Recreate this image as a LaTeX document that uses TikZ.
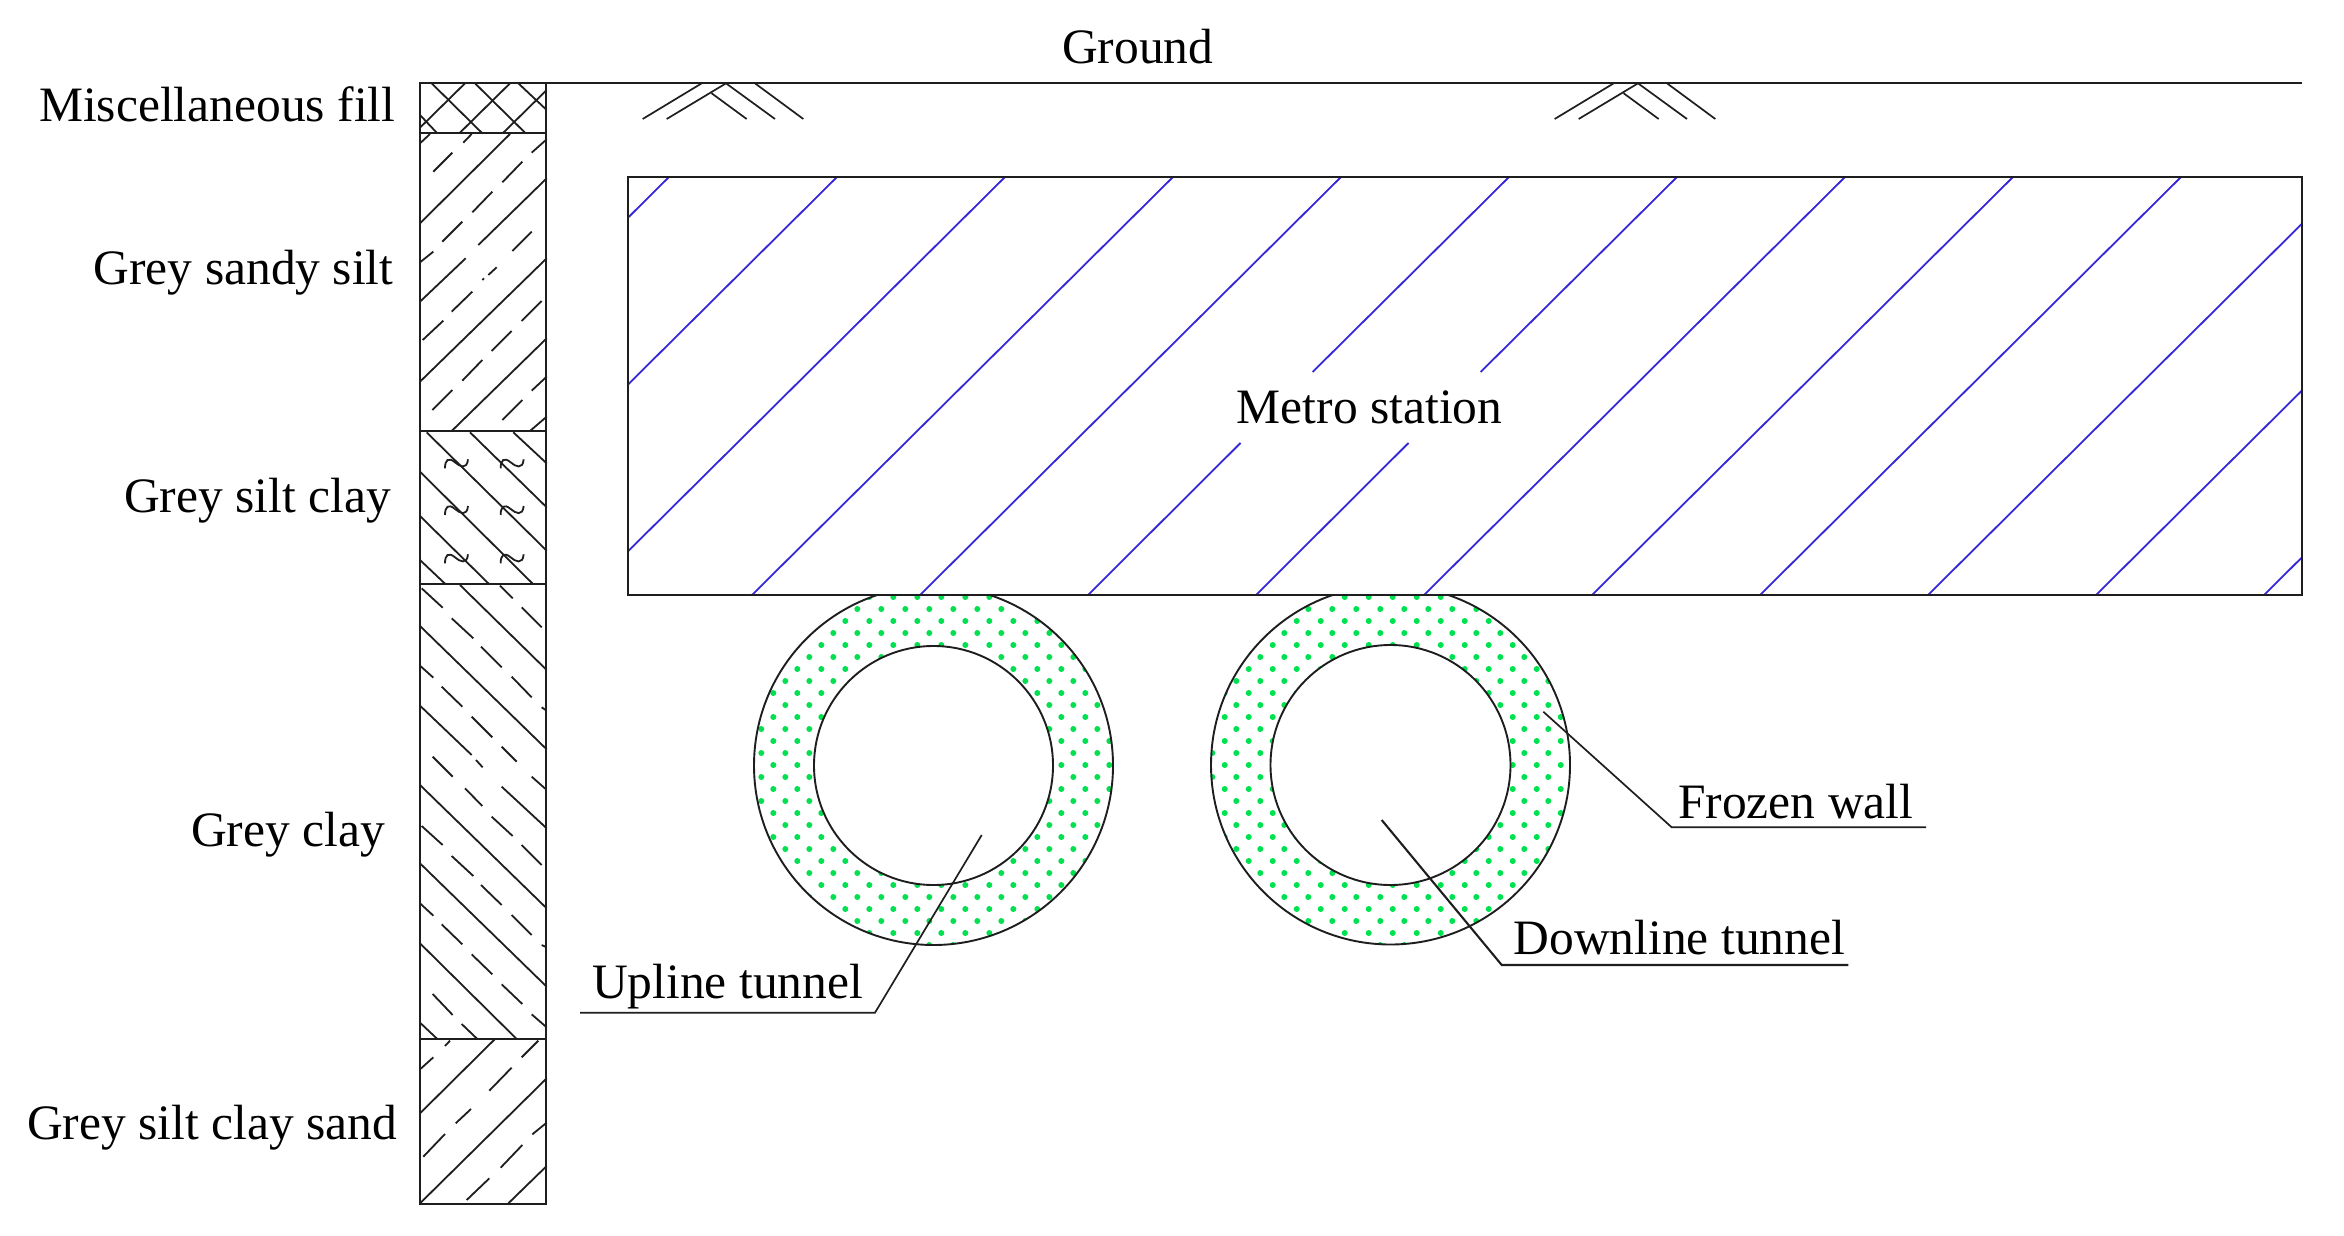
\documentclass[tikz,border=0pt]{standalone}
\usepackage{fontspec}
\setmainfont{Liberation Serif}
\definecolor{hatchblue}{RGB}{55,40,215}
\definecolor{frozengreen}{RGB}{0,225,80}
\definecolor{ink}{RGB}{30,30,30}
\newcommand\frozendots[2]{\foreach \i in {0,...,16}\foreach \j in {0,...,15}{%
  \fill[frozengreen] ({#1+24*\i},{585+24*\j}) circle (3pt);
  \fill[frozengreen] ({#2+24*\i},{597+24*\j}) circle (3pt);}}
\tikzset{
  soil/.style={ink,line width=1.8pt},
  frame/.style={ink,line width=2.3pt},
  leader/.style={ink,line width=1.7pt},
  ringline/.style={ink,line width=1.9pt},
  station/.style={hatchblue,line width=1.8pt},
  lab/.style={anchor=base west,inner sep=0pt,font=\fontsize{49.5}{50}\selectfont,text=black},
  zoomgrid/.style={x=.33333pt,y=-.33333pt}
}
\begin{document}
\begin{tikzpicture}[x=1pt,y=-1pt]
\useasboundingbox (0,0) rectangle (2344,1236);
\fill[white] (0,0) rectangle (2344,1236);

% ---- borehole column hatching
\begin{scope}[xshift=400pt,yshift=-60pt,zoomgrid]
  % miscellaneous fill
  \draw[soil] (95,70)--(245,218) (225,70)--(375,218) (355,70)--(440,150) (60,165)--(110,218);
  \draw[soil] (195,70)--(60,203) (330,70)--(180,218) (440,90)--(310,218);
  % grey sandy silt
  \draw[soil] (330,222)--(60,490) (440,355)--(235,555) (197,595)--(60,725)
     (440,595)--(60,965) (440,835)--(155,1113) (440,1070)--(390,1113);
  \draw[soil] (60,250)--(90,222) (100,335)--(157,278) (190,248)--(215,222)
     (60,607)--(100,575) (127,545)--(187,485) (217,457)--(277,395) (307,367)--(367,305) (395,278)--(440,238)
     (68,840)--(130,782) (155,755)--(217,695) (247,660)--(252,655) (265,645)--(290,622) (337,573)--(395,515)
     (97,1050)--(157,990) (187,962)--(247,900) (275,873)--(335,813) (365,783)--(425,723)
     (307,1080)--(367,1020) (395,992)--(440,950);
\end{scope}
\begin{scope}[xshift=400pt,yshift=-420pt,zoomgrid]
  % grey silt clay
  \draw[soil] (80,37)--(440,392) (210,37)--(440,262) (340,37)--(440,130)
     (60,155)--(400,493) (60,288)--(268,493) (60,420)--(137,493);
  \foreach \tx in {135,302} \foreach \ty in {130,270,415}
    \draw[soil,shift={(\tx,\ty)}] (0,15) .. controls (0,-10) and (10,-20) .. (30,-3)
       .. controls (45,10) and (66,20) .. (69,-12);
  % grey clay (upper part)
  \draw[soil] (180,495)--(440,750) (60,618)--(440,988) (60,857)--(215,1005) (228,1020)--(248,1042)
     (305,1100)--(440,1225) (60,1095)--(440,1465);
  \draw[soil] (300,497)--(338,535) (365,562)--(425,622)
     (65,505)--(128,563) (155,595)--(220,655) (243,680)--(305,742) (335,770)--(395,832) (425,862)--(440,872)
     (60,737)--(100,773) (125,800)--(187,860) (215,890)--(277,952) (305,980)--(350,1025) (395,1070)--(438,1108)
     (98,1010)--(158,1070) (195,1105)--(247,1158);
\end{scope}
\begin{scope}[xshift=400pt,yshift=-800pt,zoomgrid]
  % grey clay (lower part)
  \draw[soil] (60,190)--(440,560) (60,430)--(350,717) (60,668)--(112,717);
  \draw[soil] (275,50)--(338,108) (365,135)--(425,195)
     (65,78)--(128,135) (155,168)--(220,228) (243,255)--(305,315) (335,345)--(395,405) (425,435)--(440,442)
     (60,310)--(100,347) (125,373)--(187,433) (215,463)--(277,523) (305,553)--(367,612) (395,643)--(440,682)
     (98,582)--(158,645) (185,672)--(232,717);
  % grey silt clay sand
  \draw[soil] (285,717)--(60,940) (440,835)--(60,1210) (440,1098)--(325,1210);
  \draw[soil] (150,722)--(135,738) (100,772)--(60,808) (415,722)--(365,772) (335,803)--(268,872)
     (213,927)--(167,970) (135,1002)--(70,1070) (440,968)--(397,1003) (367,1035)--(302,1103) (268,1135)--(200,1200);
\end{scope}

% ---- borehole column frame
\draw[frame] (420,83) rectangle (546,1204);
\draw[frame] (420,133)--(546,133) (420,431)--(546,431) (420,584)--(546,584) (420,1039)--(546,1039);

% ---- ground line
\coordinate (groundL) at (546,83);
\coordinate (groundR) at (2302,83);
\draw[frame] (groundL)--(groundR);

% ---- ground symbols
\foreach \sx in {620,1532}{
\begin{scope}[xshift=\sx pt,yshift=-60pt,zoomgrid]
  \draw[leader] (68,177)--(245,70) (140,177)--(318,70) (275,100)--(380,177) (318,70)--(465,177) (405,70)--(550,177);
\end{scope}
}

% ---- metro station hatching
\begin{scope}
  \clip (628,177) rectangle (2302,595);
  \foreach \k in {0,1,2,3,4,7,8,9,10,11,12}
    \draw[station] ({846+168*\k-177},177)--({846+168*\k-598},595);
  \foreach \k in {5,6} {
    \draw[station] ({846+168*\k-177},177)--({846+168*\k-373.4},372);
    \draw[station] ({846+168*\k-445.5},443)--({846+168*\k-598},595);
  }
\end{scope}
\draw[frame] (628,177) rectangle (2302,595);

% ---- frozen walls
\begin{scope}
  \clip (700,595) rectangle (1700,1000);
  \begin{scope}[even odd rule]
    \clip (933.5,765.5) circle (179.5pt) (933.5,765.5) circle (119.5pt);
    \frozendots{737.3}{725.3}
  \end{scope}
  \begin{scope}[even odd rule]
    \clip (1390.5,765) circle (179.5pt) (1390.5,765) circle (120pt);
    \frozendots{1188.3}{1176.7}
  \end{scope}
  \draw[ringline] (933.5,765.5) circle (179.5pt) (933.5,765.5) circle (119.5pt);
  \draw[ringline] (1390.5,765) circle (179.5pt) (1390.5,765) circle (120pt);
\end{scope}
\draw[frame] (700,595)--(1700,595);

% ---- labels
\node[lab] (ground) at (1062,64) {Ground};
\node[lab] (fill) at (39,122) {Miscellaneous fill};
\node[lab] (sandysilt) at (93.5,284) {Grey sandy silt};
\node[lab] (siltclay) at (124,512.5) {Grey silt clay};
\node[lab] (clay) at (191,846.5) {Grey clay};
\node[lab] (clayband) at (27,1139) {Grey silt clay sand};
\node[lab] (metro) at (1236.7,423.3) {Metro station};
\node[lab] (upline) at (592,998) {Upline tunnel};
\node[lab] (downline) at (1513.5,954.5) {Downline tunnel};
\node[lab] (frozen) at (1678,818.5) {Frozen wall};

% ---- leaders
\coordinate (upA) at (981.7,835);
\coordinate (upB) at (875,1012.7);
\coordinate (upC) at (580,1012.7);
\draw[leader] (upA)--(upB)--(upC);
\coordinate (dnA) at (1381.7,820);
\coordinate (dnB) at (1501.7,965);
\coordinate (dnC) at (1848.3,965);
\draw[leader,line width=2.1pt] (dnA)--(dnB)--(dnC);
\coordinate (frA) at (1543.3,711.7);
\coordinate (frB) at (1671.7,827.3);
\coordinate (frC) at (1926,827.3);
\draw[leader] (frA)--(frB)--(frC);
\end{tikzpicture}
\end{document}
